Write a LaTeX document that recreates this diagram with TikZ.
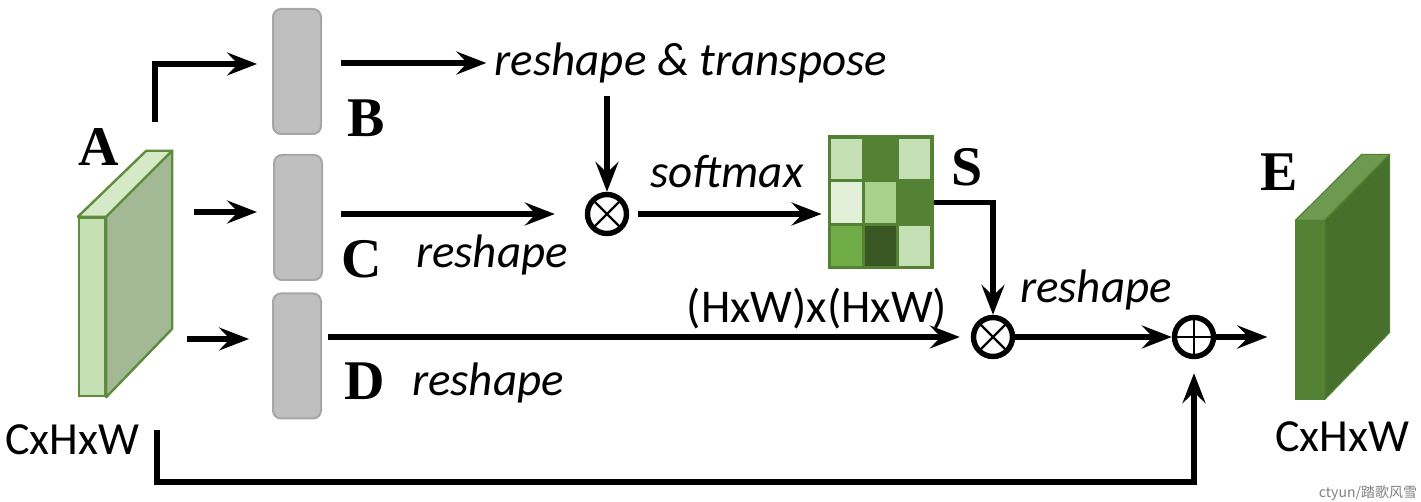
\documentclass[tikz,border=0pt]{standalone}
\usepackage{fontspec}
\setmainfont{Carlito}
\newfontfamily\lettfont{Liberation Serif}
\newfontfamily\cjkfont{Noto Sans CJK SC}
\usetikzlibrary{arrows.meta}
\definecolor{aFront}{HTML}{C5E0B4}
\definecolor{aTop}{HTML}{D5E9C7}
\definecolor{aSide}{HTML}{A3B996}
\definecolor{aEdge}{HTML}{5E8C3D}
\definecolor{eFront}{HTML}{548235}
\definecolor{eTop}{HTML}{6E9A50}
\definecolor{eSide}{HTML}{46702B}
\definecolor{boxFill}{HTML}{BFBFBF}
\definecolor{boxEdge}{HTML}{A6A6A6}
\definecolor{sDark}{HTML}{548235}
\definecolor{sLight}{HTML}{C5E0B4}
\definecolor{sPale}{HTML}{E2EFD9}
\definecolor{sMid}{HTML}{A9D18E}
\definecolor{sGreen}{HTML}{70AD47}
\definecolor{sDeep}{HTML}{385723}
\tikzset{
  conn/.style={line width=2.6pt, -{Stealth[length=15pt,width=11.5pt,inset=5.5pt]}},
  graybox/.style={draw=boxEdge, fill=boxFill, rounded corners=4pt, minimum width=24pt, minimum height=62.5pt, line width=1pt, inner sep=0pt},
  opnode/.style={circle, draw, line width=2.7pt, minimum size=19.5pt, inner sep=0pt},
  otimesnode/.style={opnode, path picture={
      \draw[line width=1.2pt] (path picture bounding box.north west) -- (path picture bounding box.south east);
      \draw[line width=1.2pt] (path picture bounding box.north east) -- (path picture bounding box.south west);}},
  oplusnode/.style={opnode, path picture={
      \draw[line width=1.2pt] (path picture bounding box.north) -- (path picture bounding box.south);
      \draw[line width=1.2pt] (path picture bounding box.west) -- (path picture bounding box.east);}},
  lbl/.style={inner sep=0pt, font=\fontsize{23.5}{27}\selectfont\itshape},
  dimlbl/.style={inner sep=0pt, font=\fontsize{23.5}{27}\selectfont},
  letter/.style={inner sep=0pt, font=\lettfont\bfseries\fontsize{28}{32}\selectfont},
}
\begin{document}
\begin{tikzpicture}[x=0.5pt,y=-0.5pt]
\useasboundingbox (0,0) rectangle (1421,502);
% block A
\node[draw=aEdge, fill=aFront, line width=1.2pt, minimum width=13pt, minimum height=89pt, inner sep=0pt] (Af) at (92,307) {};
\draw[draw=aEdge, fill=aTop, line width=1.2pt, line join=round] (Af.north west) -- (Af.north east) -- ++(66,-66) -- ++(-26,0) -- cycle;
\draw[draw=aEdge, fill=aSide, line width=1.2pt, line join=round] (Af.north east) -- ++(66,-66) -- ++(0,178) -- (Af.south east) -- cycle;
\node[letter] (lA) at (99,147) {A};
\node[dimlbl, font=\fontsize{23}{27}\selectfont] (dA) at (72,440) {CxHxW};
% block E
\node[draw=eFront, fill=eFront, line width=0.6pt, minimum width=14pt, minimum height=89pt, inner sep=0pt] (Ef) at (1310,310) {};
\draw[draw=eFront, fill=eTop, line width=0.6pt, line join=round] (Ef.north west) -- (Ef.north east) -- ++(65,-66) -- ++(-28,0) -- cycle;
\draw[draw=eFront, fill=eSide, line width=0.6pt, line join=round] (Ef.north east) -- ++(65,-66) -- ++(0,178) -- (Ef.south east) -- cycle;
\node[letter] (lE) at (1279,172) {E};
\node[dimlbl, font=\fontsize{23}{27}\selectfont] (dE) at (1342,437) {CxHxW};
% gray boxes
\node[graybox] (B) at (297,71.5) {};
\node[graybox] (C) at (298,217.5) {};
\node[graybox] (D) at (297,356) {};
\node[letter] (lB) at (366,118) {B};
\node[letter] (lC) at (362,259) {C};
\node[letter] (lD) at (365,381) {D};
% S matrix
\node[draw=sDark, fill=sDark, line width=0.5pt, minimum width=52.5pt, minimum height=66.5pt, inner sep=0pt] (S) at (880.5,202.5) {};
\fill[sLight] (831,139) rectangle (862,179);
\fill[sDark]  (865,139) rectangle (896,179);
\fill[sLight] (899,139) rectangle (930,179);
\fill[sPale]  (831,182) rectangle (862,223);
\fill[sMid]   (865,182) rectangle (896,223);
\fill[sDark]  (899,182) rectangle (930,223);
\fill[sGreen] (831,226) rectangle (862,266);
\fill[sDeep]  (865,226) rectangle (896,266);
\fill[sLight] (899,226) rectangle (930,266);
\node[letter] (lS) at (967,167) {S};
% operators
\node[otimesnode] (o1) at (607,214) {};
\node[otimesnode] (o2) at (993,337) {};
\node[oplusnode] (op) at (1194,337) {};
% text labels
\node[lbl] (rt) at (691,63) {reshape \& transpose};
\node[lbl] (sm) at (727,172) {softmax};
\node[lbl] (rC) at (492,255) {reshape};
\node[lbl] (rD) at (488,383) {reshape};
\node[lbl] (rE) at (1096,290) {reshape};
\node[dimlbl] (hw) at (817,309) {(HxW)x(HxW)};
\node[inner sep=0pt, text=gray, font=\cjkfont\fontsize{7}{8}\selectfont] (wm) at (1368,493) {ctyun/踏歌风雪};
% coordinates for free ends
\coordinate (a1) at (155,122);
\coordinate (a2) at (194,212);
\coordinate (a3) at (187,339);
\coordinate (a4) at (157,430);
% connectors
\draw[conn, shorten >=7.5pt] (a1) |- ([yshift=3.75pt]B.west);
\draw[conn, shorten >=8pt] (a2) -- (C.west |- a2);
\draw[conn, shorten >=11.5pt] (a3) -- (D.west |- a3);
\draw[conn, shorten <=9.5pt, shorten >=4pt] (B.east |- rt.west) -- (rt.west);
\draw[conn, shorten <=6pt] (o1 |- rt.south) -- (o1.north);
\draw[conn, shorten <=9pt, shorten >=15pt] (C.east |- o1.west) -- (o1.west);
\draw[conn, shorten <=4.5pt, shorten >=3pt] (o1.east) -- (S.west |- o1.east);
\draw[conn] (S.east) -| (o2.north);
\draw[conn, shorten <=3pt, shorten >=5.5pt] (D.east |- o2.west) -- (o2.west);
\draw[conn] (o2.east) -- (op.west);
\draw[conn, shorten >=14pt] (op.east) -- (Ef.west |- op.east);
\draw[conn, shorten >=7pt, line join=miter] (a4) -- (a4 |- 0,482) -| (op.south);
\end{tikzpicture}
\end{document}
